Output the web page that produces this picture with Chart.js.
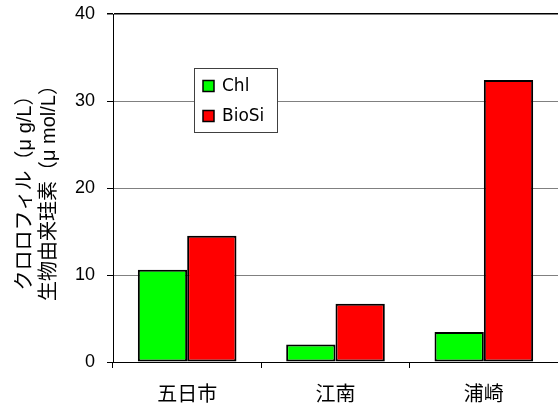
<!DOCTYPE html>
<html>
<head>
<meta charset="utf-8">
<script src="https://cdn.jsdelivr.net/npm/chart.js@4"></script>
<style>
html,body{margin:0;padding:0;background:#fff;}
#wrap{width:558px;height:405px;position:relative;}
</style>
</head>
<body>
<div id="wrap"><canvas id="c" width="558" height="405"></canvas></div>
<script>
const categories = ['五日市', '江南', '浦崎'];
const chl = [10.6, 2.0, 3.45];
const bioSi = [14.5, 6.7, 32.4];
const seriesNames = ['Chl', 'BioSi'];
const yTicks = [0, 10, 20, 30, 40];
const yTitle = ['クロロフィル（μ g/L）', '生物由来珪素（μ mol/L）'];

const FONT = "'Liberation Sans', 'Noto Sans CJK JP', sans-serif";
const LFONT = "'DejaVu Sans', 'Noto Sans CJK JP', sans-serif";

const legendPlugin = {
  id: 'boxLegend',
  afterDraw(chart) {
    const ctx = chart.ctx;
    const a = chart.chartArea;
    const x = a.left + 81, y = a.top + 54, w = 83, h = 64;
    ctx.save();
    ctx.fillStyle = '#fff';
    ctx.fillRect(x, y, w, h);
    ctx.strokeStyle = '#404040';
    ctx.lineWidth = 1;
    ctx.strokeRect(x + 0.5, y + 0.5, w, h);
    ctx.font = '17px ' + LFONT;
    ctx.textBaseline = 'middle';
    ctx.textAlign = 'left';
    chart.data.datasets.forEach((ds, i) => {
      const cy = y + 18 + i * 30;
      ctx.fillStyle = ds.backgroundColor;
      ctx.fillRect(x + 9, cy - 5.5, 11, 11);
      ctx.strokeStyle = '#000';
      ctx.lineWidth = 1.5;
      ctx.strokeRect(x + 9, cy - 5.5, 11, 11);
      ctx.fillStyle = '#000';
      ctx.fillText(ds.label, x + 28, cy + 1);
    });
    ctx.restore();
  }
};

new Chart(document.getElementById('c'), {
  type: 'bar',
  data: {
    labels: categories,
    datasets: [
      { label: seriesNames[0], data: chl, backgroundColor: '#00ff00', borderColor: '#000', borderWidth: 2, borderSkipped: false },
      { label: seriesNames[1], data: bioSi, backgroundColor: '#ff0000', borderColor: '#000', borderWidth: 2, borderSkipped: false }
    ]
  },
  options: {
    responsive: false,
    animation: false,
    devicePixelRatio: 1,
    layout: { padding: { top: 14, right: 0, left: 0, bottom: 0 } },
    datasets: { bar: { barPercentage: 1.0, categoryPercentage: 0.665 } },
    plugins: { legend: { display: false }, tooltip: { enabled: false } },
    scales: {
      x: {
        offset: true,
        grid: { offset: true, drawOnChartArea: false, drawTicks: true, tickLength: 6, color: '#000', lineWidth: 1 },
        border: { display: true, color: '#000', width: 1 },
        ticks: { color: '#000', font: { size: 20, family: FONT }, padding: 15 },
        afterFit(s) { s.height = 43; s.paddingLeft = 0; s.paddingRight = 0; }
      },
      y: {
        min: 0, max: 40,
        afterBuildTicks(s) { s.ticks = yTicks.map(v => ({ value: v })); },
        grid: {
          color: (c) => (c.tick && c.tick.value === 40) ? '#000' : '#808080',
          lineWidth: (c) => (c.tick && c.tick.value === 40) ? 1.5 : 1,
          tickLength: 6,
          tickColor: '#000'
        },
        border: { display: true, color: '#000', width: 1 },
        ticks: { color: '#000', font: { size: 18, family: FONT }, padding: 12 },
        title: { display: true, text: yTitle, color: '#000', font: { size: 20, family: FONT }, padding: { top: 13, bottom: 0 } },
        afterFit(s) { s.width = 113; s.paddingTop = 0; s.paddingBottom = 0; }
      }
    }
  },
  plugins: [legendPlugin]
});
</script>
</body>
</html>
